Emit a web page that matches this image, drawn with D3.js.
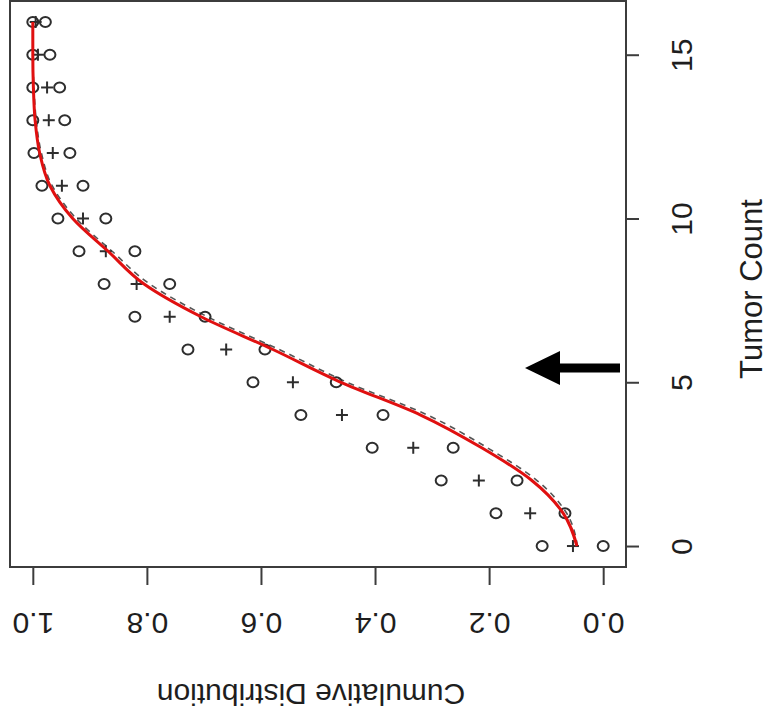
<!DOCTYPE html>
<html>
<head>
<meta charset="utf-8">
<script src="https://cdn.jsdelivr.net/npm/d3@7"></script>
<style>
  html, body { margin: 0; padding: 0; background: #fff; }
  svg { display: block; }
  text { font-family: "Liberation Sans", Arial, Helvetica, sans-serif; fill: #1e1e1e; }
</style>
</head>
<body>
<svg id="chart" width="771" height="721"></svg>
<script>
// Tumor counts on the (rotated) horizontal axis
const tumorCounts = [0, 1, 2, 3, 4, 5, 6, 7, 8, 9, 10, 11, 12, 13, 14, 15, 16];

// Observed cumulative distribution (plus) with upper/lower bounds (circles)
const upperBound = [0.107, 0.188, 0.284, 0.405, 0.530, 0.614, 0.728, 0.821, 0.875, 0.919, 0.956, 0.984, 0.998, 1.0, 1.0, 1.0, 1.0];
const observed   = [0.053, 0.128, 0.218, 0.333, 0.458, 0.544, 0.661, 0.760, 0.818, 0.872, 0.912, 0.949, 0.965, 0.972, 0.975, 0.991, 0.995];
const lowerBound = [0.0, 0.067, 0.151, 0.263, 0.386, 0.468, 0.593, 0.698, 0.760, 0.821, 0.872, 0.912, 0.935, 0.944, 0.953, 0.970, 0.978];

// Fitted model curve (red) and alternative fit (dashed)
const fitted      = [0.046, 0.070, 0.125, 0.213, 0.320, 0.460, 0.579, 0.705, 0.805, 0.868, 0.930, 0.970, 0.988, 0.996, 0.999, 1.0, 1.0];
const fittedAlt   = [0.045, 0.064, 0.116, 0.203, 0.308, 0.449, 0.568, 0.694, 0.795, 0.861, 0.924, 0.966, 0.985, 0.994, 0.998, 1.0, 1.0];

// Axis ticks
const countTicks = [0, 5, 10, 15];
const cumTicks = [0, 0.2, 0.4, 0.6, 0.8, 1.0];

const svg = d3.select("#chart");
const frameColor = "#3c3c3c";
const ptColor = "#2e2e2e";

// The plot is laid out rotated: cumulative value runs right-to-left,
// tumor count runs bottom-to-top.
const cx = d3.scaleLinear().domain([-0.04, 1.04]).range([626, 10]);
const cy = d3.scaleLinear().domain([-0.64, 16.64]).range([567, 1]);

// Dashed alternative fit
const line = (vals) => d3.line()
  .x((d, i) => cx(vals[i]))
  .y((d, i) => cy(tumorCounts[i]))
  .curve(d3.curveMonotoneY)(tumorCounts);

svg.append("path")
  .attr("d", line(fittedAlt))
  .attr("fill", "none")
  .attr("stroke", "#555")
  .attr("stroke-width", 1.6)
  .attr("stroke-dasharray", "6,5");

// Circles: bounds
const circleData = [];
tumorCounts.forEach((k, i) => {
  circleData.push({ k, v: upperBound[i] });
  circleData.push({ k, v: lowerBound[i] });
});
svg.append("g").selectAll("ellipse")
  .data(circleData)
  .join("ellipse")
  .attr("cx", d => cx(d.v))
  .attr("cy", d => cy(d.k))
  .attr("rx", 5.5)
  .attr("ry", 5)
  .attr("fill", "none")
  .attr("stroke", ptColor)
  .attr("stroke-width", 2);

// Plus signs: observed
const plus = svg.append("g").selectAll("g")
  .data(tumorCounts.map((k, i) => ({ k, v: observed[i] })))
  .join("g")
  .attr("transform", d => `translate(${cx(d.v)},${cy(d.k)})`);
plus.append("line").attr("x1", -6).attr("x2", 6).attr("y1", 0).attr("y2", 0)
  .attr("stroke", ptColor).attr("stroke-width", 2);
plus.append("line").attr("x1", 0).attr("x2", 0).attr("y1", -6).attr("y2", 6)
  .attr("stroke", ptColor).attr("stroke-width", 2);

// Red fitted curve
svg.append("path")
  .attr("d", line(fitted))
  .attr("fill", "none")
  .attr("stroke", "#e01010")
  .attr("stroke-width", 3);

// Frame
svg.append("rect")
  .attr("x", 10).attr("y", 1)
  .attr("width", 616).attr("height", 566)
  .attr("fill", "none")
  .attr("stroke", frameColor)
  .attr("stroke-width", 2);

// Cumulative axis (bottom, labels upside down)
const bottomAxis = svg.append("g")
  .attr("transform", "translate(0,567)")
  .call(d3.axisBottom(cx).tickValues(cumTicks).tickSize(18).tickSizeOuter(0)
    .tickFormat(d3.format(".1f")));
bottomAxis.select(".domain").remove();
bottomAxis.selectAll("line").attr("stroke", frameColor).attr("stroke-width", 2);
bottomAxis.selectAll("text")
  .attr("x", 0).attr("y", 0).attr("dy", null)
  .attr("transform", "translate(0,46) rotate(180)")
  .attr("text-anchor", "middle")
  .style("font-size", "30px")
  .attr("fill", "#1e1e1e");

// Tumor count axis (right, labels reading upward)
const rightAxis = svg.append("g")
  .attr("transform", "translate(626,0)")
  .call(d3.axisRight(cy).tickValues(countTicks).tickSize(13).tickSizeOuter(0)
    .tickFormat(d3.format("d")));
rightAxis.select(".domain").remove();
rightAxis.selectAll("line").attr("stroke", frameColor).attr("stroke-width", 2);
rightAxis.selectAll("text")
  .attr("x", 0).attr("y", 0).attr("dy", null)
  .attr("transform", "translate(66,0) rotate(-90)")
  .attr("text-anchor", "middle")
  .style("font-size", "30px")
  .attr("fill", "#1e1e1e");

// Axis titles
svg.append("text")
  .attr("transform", "translate(311,684) rotate(180)")
  .attr("text-anchor", "middle")
  .style("font-size", "30px")
  .text("Cumulative Distribution");

svg.append("text")
  .attr("transform", "translate(762,289) rotate(-90)")
  .attr("text-anchor", "middle")
  .style("font-size", "31px")
  .text("Tumor Count");

// Pointer arrow
svg.append("path")
  .attr("d", "M620,363.5 L560,363.5 L560,351 L525,368 L560,385 L560,372.5 L620,372.5 Z")
  .attr("fill", "#000");
</script>
</body>
</html>
